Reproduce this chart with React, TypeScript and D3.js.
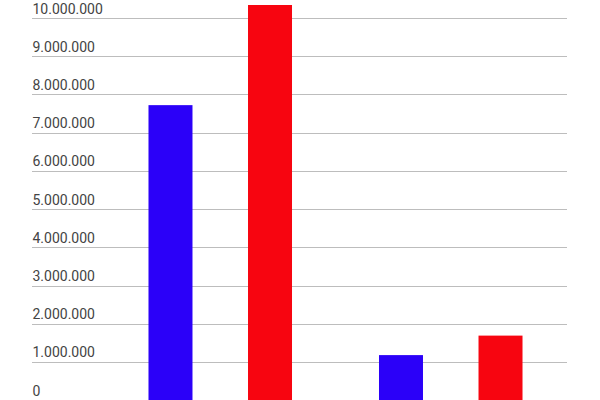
import { scaleBand, scaleLinear, range } from "d3";

const categories = ["Categoria 1", "Categoria 2"];
const seriesNames = ["Serie A", "Serie B"];
const seriesA = [7720000, 1180000];
const seriesB = [10340000, 1690000];
const yTicks = range(0, 11).map((i) => i * 1000000);

const colors = ["#2b00f8", "#f70510"];

const width = 600;
const height = 400;
const gridLeft = 32;
const gridRight = 567;

const formatTick = (v: number) =>
  v.toString().replace(/\B(?=(\d{3})+(?!\d))/g, ".");

function App() {
  const yScale = scaleLinear().domain([0, 10000000]).range([400.2, 18]);

  const xScale = scaleBand<string>()
    .domain(categories)
    .range([105, 566])
    .padding(0);

  const innerScale = scaleBand<string>()
    .domain(seriesNames)
    .range([0, xScale.bandwidth()])
    .paddingInner(0.558)
    .paddingOuter(0.437);

  const values = [seriesA, seriesB];

  return (
    <svg
      width={width}
      height={height}
      style={{ position: "absolute", left: 0, top: 0, background: "#fff" }}
    >
      {yTicks.map((t) => (
        <g key={`grid-${t}`}>
          <line
            x1={gridLeft}
            x2={gridRight}
            y1={Math.round(yScale(t)) + 0.5}
            y2={Math.round(yScale(t)) + 0.5}
            stroke="#bdbdbd"
            strokeWidth={1}
          />
          <text
            x={gridLeft + 0.5}
            y={yScale(t) - 4.5}
            fontFamily="Roboto, 'Noto Sans', sans-serif"
            fontSize={14}
            fill="#444"
          >
            {formatTick(t)}
          </text>
        </g>
      ))}
      {categories.map((cat, ci) => (
        <g key={cat} transform={`translate(${xScale(cat) ?? 0}, 0)`}>
          {seriesNames.map((s, si) => {
            const v = values[si][ci];
            const y = yScale(v);
            return (
              <rect
                key={s}
                x={innerScale(s) ?? 0}
                y={y}
                width={innerScale.bandwidth()}
                height={yScale(0) - y}
                fill={colors[si]}
              />
            );
          })}
        </g>
      ))}
    </svg>
  );
}

export default App;
